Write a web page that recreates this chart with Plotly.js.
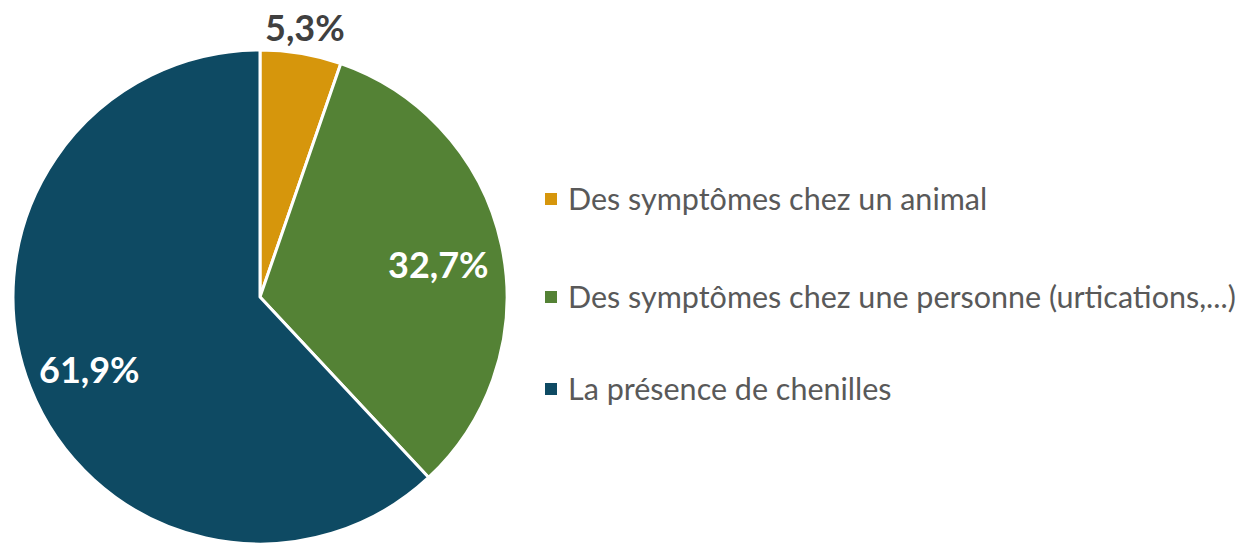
<!DOCTYPE html>
<html>
<head>
<meta charset="utf-8">
<script src="https://cdn.plot.ly/plotly-3.0.1.min.js"></script>
<style>html,body{margin:0;padding:0;background:#fff;}#chart{width:1242px;height:545px;}</style>
</head>
<body>
<div id="chart"></div>
<script>
const categories = ["Des symptômes chez un animal", "Des symptômes chez une personne (urtications,...)", "La présence de chenilles"];
const values = [5.3, 32.7, 61.9];
const colors = ["#D6960C", "#548235", "#0E4A63"];
const labelInside = [false, true, true];

const FONT = "Lato, 'Source Sans Pro', 'Noto Sans', sans-serif";
const W = 1242, H = 545;
const texts = values.map(v => v.toFixed(1).replace('.', ',') + '%');

// pie placement (paper)
const cx = 260, cy = 297, R = 247;

const trace = {
  type: 'pie',
  labels: categories,
  values: values,
  textinfo: 'none',
  sort: false,
  direction: 'clockwise',
  rotation: 0,
  marker: {colors: colors, line: {color: '#ffffff', width: 3}},
  domain: {x: [(cx - R)/W, (cx + R)/W], y: [(H - cy - R)/H, (H - cy + R)/H]},
  showlegend: false,
  hoverinfo: 'none'
};

const annotations = [];
const shapes = [];

// percentage labels at slice mid-angles (derived from values)
const total = values.reduce((a, b) => a + b, 0);
let cum = 0;
values.forEach((v, i) => {
  const mid = (cum + v / 2) / total * 2 * Math.PI;
  cum += v;
  const f = labelInside[i] ? 0.74 : 1.11;
  const px = cx + f * R * Math.sin(mid);
  const py = cy - f * R * Math.cos(mid);
  annotations.push({
    xref: 'paper', yref: 'paper', x: px / W, y: 1 - py / H,
    xanchor: 'center', yanchor: 'middle', showarrow: false,
    yshift: labelInside[i] ? -5 : 0,
    text: '<b>' + texts[i] + '</b>',
    font: {family: FONT, size: 36, color: labelInside[i] ? '#ffffff' : '#404040'}
  });
});

// manual legend built from categories/colors
const legendY = [198, 296, 388];
categories.forEach((c, i) => {
  annotations.push({
    xref: 'paper', yref: 'paper', x: 566/W, y: 1 - legendY[i] / H,
    xanchor: 'left', yanchor: 'middle', showarrow: false,
    text: c, font: {family: FONT, size: 30.5, color: '#595959'}
  });
  shapes.push({
    type: 'rect', xref: 'paper', yref: 'paper',
    x0: 545/W, x1: 557/W,
    y0: 1 - (legendY[i] + 7) / H, y1: 1 - (legendY[i] - 5) / H,
    fillcolor: colors[i], line: {width: 0}
  });
});

const layout = {
  width: W, height: H,
  margin: {l: 0, r: 0, t: 0, b: 0},
  paper_bgcolor: '#ffffff',
  plot_bgcolor: '#ffffff',
  showlegend: false,
  annotations: annotations,
  shapes: shapes
};

Plotly.newPlot('chart', [trace], layout, {displayModeBar: false, staticPlot: true});
</script>
</body>
</html>
